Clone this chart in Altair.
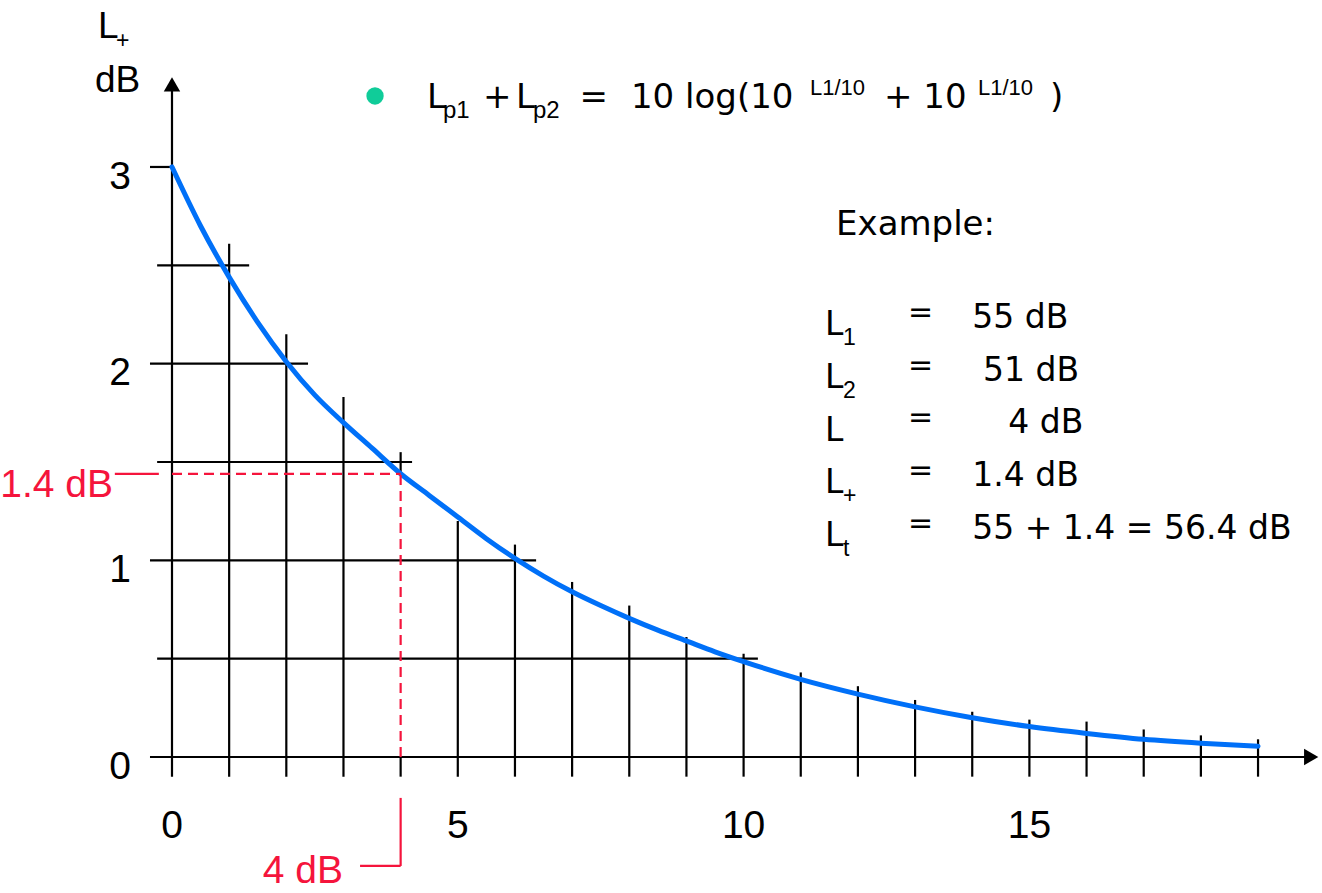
import altair as alt
import pandas as pd

# ---- level-addition curve L+ (dB) against level difference (dB) ----
curve_x = [0, 0.5, 1, 1.5, 2, 2.5, 3, 3.5, 4, 4.5, 5, 5.5, 6, 6.5, 7, 7.5, 8, 8.5,
           9, 9.5, 10, 11, 12, 13, 14, 15, 16, 17, 18, 19]
curve_y = [3.00, 2.70, 2.44, 2.21, 2.01, 1.84, 1.70, 1.57, 1.44, 1.33, 1.22, 1.11,
           1.01, 0.92, 0.84, 0.77, 0.705, 0.645, 0.59, 0.535, 0.485, 0.395, 0.32,
           0.255, 0.20, 0.155, 0.12, 0.09, 0.07, 0.055]

# vertical reading lines at each whole dB step and how high each one reaches
grid_x = list(range(1, 20))
grid_top = [2.61, 2.15, 1.83, 1.55, 1.20, 1.08, 0.89, 0.77, 0.61, 0.525,
            0.43, 0.36, 0.29, 0.23, 0.19, 0.18, 0.14, 0.11, 0.09]

# horizontal reading lines: level and right end
hline_y = [3.0, 2.5, 2.0, 1.5, 1.0, 0.5]
hline_end = [0.0, 1.35, 2.38, 4.2, 6.37, 10.25]
hline_major = [True, False, True, False, True, False]

x_ticks = [0, 5, 10, 15]
y_ticks = [0, 1, 2, 3]

# worked example
ex_diff = 4.0
ex_plus = 1.44

example_sym = ["L", "L", "L", "L", "L"]
example_sub = ["1", "2", "", "+", "t"]
example_val = ["55 dB", "51 dB", "4 dB", "1.4 dB", "55 + 1.4 = 56.4 dB"]
example_val_x = [14.0, 14.19, 14.63, 14.0, 14.0]

X_DOM = [-3.009, 20.119]
Y_DOM = [-0.6915, 3.849]
xs = alt.Scale(domain=X_DOM, nice=False, zero=False)
ys = alt.Scale(domain=Y_DOM, nice=False, zero=False)

BLUE = "#0070F8"
RED = "#F5143C"
GREEN = "#10CC99"
BLACK = "#000000"
TICK_DEPTH = -0.10


def X(f):
    return alt.X(f, type="quantitative", scale=xs, axis=None)


def Y(f):
    return alt.Y(f, type="quantitative", scale=ys, axis=None)


layers = []

# vertical grid lines (with their tick below the axis); the line at the
# example's difference is replaced by the red guide below the curve
v_x, v_y0, v_y1 = [], [], []
for gx, top in zip(grid_x, grid_top):
    if gx == ex_diff:
        v_x += [gx, gx]
        v_y0 += [ex_plus, TICK_DEPTH]
        v_y1 += [top, 0.0]
    else:
        v_x.append(gx)
        v_y0.append(TICK_DEPTH)
        v_y1.append(top)
vdf = pd.DataFrame({"x": v_x, "y0": v_y0, "y1": v_y1})
layers.append(alt.Chart(vdf).mark_rule(color=BLACK, strokeWidth=2.2).encode(
    x=X("x"), y=Y("y0"), y2="y1"))

# horizontal grid lines
hdf = pd.DataFrame({"y": hline_y, "x1": hline_end,
                    "x0": [-0.385 if m else -0.26 for m in hline_major]})
layers.append(alt.Chart(hdf).mark_rule(color=BLACK, strokeWidth=2.2).encode(
    x=X("x0"), x2="x1", y=Y("y")))

# axes with arrow heads
axdf = pd.DataFrame({"x0": [-0.385, 0.0], "x1": [19.85, 0.0],
                     "y0": [0.0, TICK_DEPTH], "y1": [0.0, 3.40]})
layers.append(alt.Chart(axdf).mark_rule(color=BLACK, strokeWidth=2.2).encode(
    x=X("x0"), x2="x1", y=Y("y0"), y2="y1"))
arrows = pd.DataFrame({"x": [19.93, 0.0], "y": [0.0, 3.42],
                       "shape": ["triangle-right", "triangle-up"]})
layers.append(alt.Chart(arrows).mark_point(filled=True, size=270, opacity=1,
                                           color=BLACK).encode(
    x=X("x"), y=Y("y"),
    shape=alt.Shape("shape:N", scale=None, legend=None)))

# the curve
cdf = pd.DataFrame({"x": curve_x, "y": curve_y})
layers.append(alt.Chart(cdf).mark_line(color=BLUE, strokeWidth=5,
                                       interpolate="monotone",
                                       strokeCap="round").encode(
    x=X("x"), y=Y("y")))

# worked example guide lines
dash_df = pd.DataFrame({"x0": [0.0, ex_diff], "x1": [ex_diff, ex_diff],
                        "y0": [ex_plus, 0.0], "y1": [ex_plus, ex_plus]})
layers.append(alt.Chart(dash_df).mark_rule(color=RED, strokeWidth=2.2,
                                           strokeDash=[10, 6]).encode(
    x=X("x0"), x2="x1", y=Y("y0"), y2="y1"))
lead_df = pd.DataFrame({"x0": [-1.0, ex_diff, 3.29],
                        "x1": [-0.23, ex_diff, ex_diff],
                        "y0": [ex_plus, -0.208, -0.554],
                        "y1": [ex_plus, -0.554, -0.554]})
layers.append(alt.Chart(lead_df).mark_rule(color=RED, strokeWidth=2.2).encode(
    x=X("x0"), x2="x1", y=Y("y0"), y2="y1"))

red_lab = pd.DataFrame({"x": [-1.032, 2.992], "y": [1.322, -0.641],
                        "t": [f"{ex_plus:.1f} dB", f"{ex_diff:.0f} dB"]})
layers.append(alt.Chart(red_lab).mark_text(align="right", baseline="alphabetic",
                                           font="Liberation Sans", fontSize=39,
                                           color=RED).encode(
    x=X("x"), y=Y("y"), text="t:N"))

# tick labels
xt = pd.DataFrame({"x": x_ticks, "y": [-0.412] * len(x_ticks),
                   "t": [str(v) for v in x_ticks]})
layers.append(alt.Chart(xt).mark_text(align="center", baseline="alphabetic",
                                      font="Liberation Sans", fontSize=39,
                                      color=BLACK).encode(
    x=X("x"), y=Y("y"), text="t:N"))
yt = pd.DataFrame({"x": [-0.717] * len(y_ticks), "y": [v - 0.11 for v in y_ticks],
                   "t": [str(v) for v in y_ticks]})
layers.append(alt.Chart(yt).mark_text(align="right", baseline="alphabetic",
                                      font="Liberation Sans", fontSize=39,
                                      color=BLACK).encode(
    x=X("x"), y=Y("y"), text="t:N"))

# y axis title  L+ / dB
yt_main = pd.DataFrame({"x": [-1.295, -1.347], "y": [3.656, 3.381], "t": ["L", "dB"]})
layers.append(alt.Chart(yt_main).mark_text(align="left", baseline="alphabetic",
                                           font="Liberation Sans", fontSize=37,
                                           color=BLACK).encode(
    x=X("x"), y=Y("y"), text="t:N"))
yt_sub = pd.DataFrame({"x": [-0.98], "y": [3.605], "t": ["+"]})
layers.append(alt.Chart(yt_sub).mark_text(align="left", baseline="alphabetic",
                                          font="Liberation Sans", fontSize=23,
                                          color=BLACK).encode(
    x=X("x"), y=Y("y"), text="t:N"))

# formula line with bullet
bullet = pd.DataFrame({"x": [3.552], "y": [3.361]})
layers.append(alt.Chart(bullet).mark_point(filled=True, shape="circle", size=300,
                                           opacity=1, color=GREEN).encode(
    x=X("x"), y=Y("y")))
f_main = pd.DataFrame({"x": [4.461, 5.44, 6.02, 7.13, 8.03, 12.457, 15.361],
                       "y": [3.300] * 7,
                       "t": ["L", "+", "L", "=", "10 log(10", "+ 10", ")"]})
layers.append(alt.Chart(f_main).mark_text(align="left", baseline="alphabetic",
                                          font="DejaVu Sans", fontSize=34,
                                          color=BLACK).encode(
    x=X("x"), y=Y("y"), text="t:N"))
f_sub = pd.DataFrame({"x": [4.741, 6.316], "y": [3.249, 3.249], "t": ["p1", "p2"]})
layers.append(alt.Chart(f_sub).mark_text(align="left", baseline="alphabetic",
                                         font="Liberation Sans", fontSize=24,
                                         color=BLACK).encode(
    x=X("x"), y=Y("y"), text="t:N"))
f_sup = pd.DataFrame({"x": [11.162, 14.101], "y": [3.366, 3.366],
                      "t": ["L1/10", "L1/10"]})
layers.append(alt.Chart(f_sup).mark_text(align="left", baseline="alphabetic",
                                         font="Liberation Sans", fontSize=22,
                                         color=BLACK).encode(
    x=X("x"), y=Y("y"), text="t:N"))

# example block
row_step = 0.268
val_base = [2.181 - i * row_step for i in range(len(example_val))]
ex_title = pd.DataFrame({"x": [11.617], "y": [2.654], "t": ["Example:"]})
layers.append(alt.Chart(ex_title).mark_text(align="left", baseline="alphabetic",
                                            font="DejaVu Sans", fontSize=34,
                                            color=BLACK).encode(
    x=X("x"), y=Y("y"), text="t:N"))
ex_sym = pd.DataFrame({"x": [11.425] * 5, "y": [v - 0.036 for v in val_base],
                       "t": example_sym})
layers.append(alt.Chart(ex_sym).mark_text(align="left", baseline="alphabetic",
                                          font="DejaVu Sans", fontSize=33,
                                          color=BLACK).encode(
    x=X("x"), y=Y("y"), text="t:N"))
ex_sub = pd.DataFrame({"x": [11.74] * 5, "y": [v - 0.087 for v in val_base],
                       "t": example_sub})
layers.append(alt.Chart(ex_sub).mark_text(align="left", baseline="alphabetic",
                                          font="Liberation Sans", fontSize=23,
                                          color=BLACK).encode(
    x=X("x"), y=Y("y"), text="t:N"))
ex_eq = pd.DataFrame({"x": [12.877] * 5, "y": val_base, "t": ["="] * 5})
layers.append(alt.Chart(ex_eq).mark_text(align="left", baseline="alphabetic",
                                         font="DejaVu Sans", fontSize=30, dy=-6,
                                         color=BLACK).encode(
    x=X("x"), y=Y("y"), text="t:N"))
ex_val = pd.DataFrame({"x": example_val_x, "y": val_base, "t": example_val})
layers.append(alt.Chart(ex_val).mark_text(align="left", baseline="alphabetic",
                                          font="DejaVu Sans", fontSize=33,
                                          color=BLACK).encode(
    x=X("x"), y=Y("y"), text="t:N"))

chart = alt.layer(*layers).properties(
    width=1322, height=893, padding=0,
    autosize=alt.AutoSizeParams(type="none"),
    background="white",
).configure_view(stroke=None)

chart.save("out.html", embed_options={"renderer": "svg", "actions": False})
